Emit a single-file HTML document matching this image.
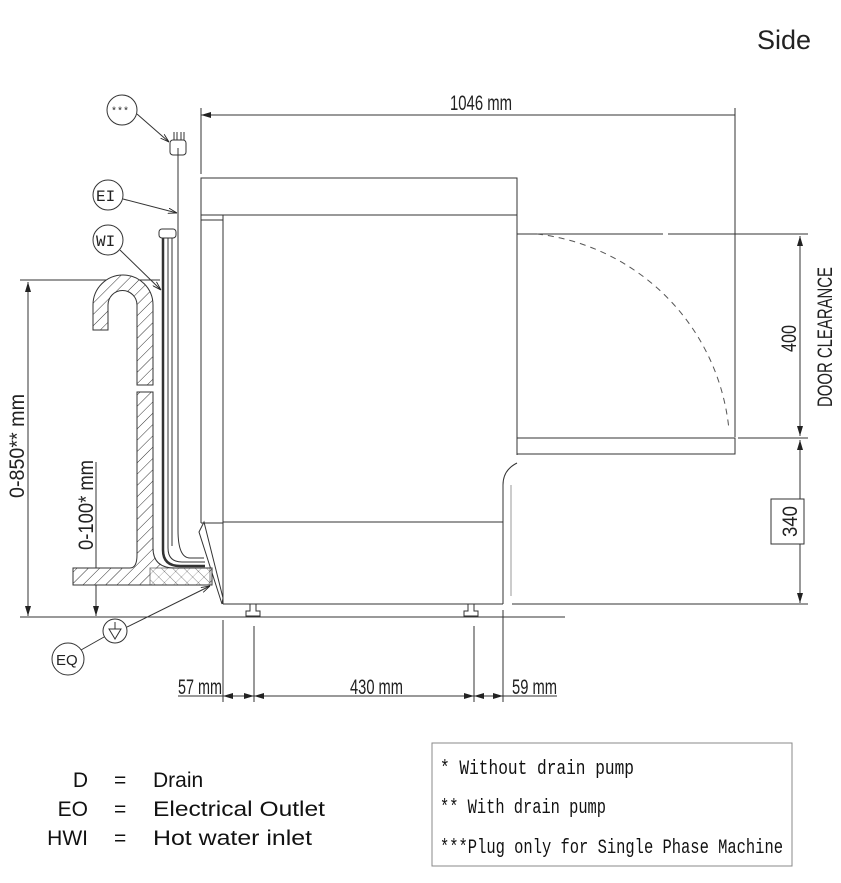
<!DOCTYPE html>
<html><head><meta charset="utf-8"><style>
html,body{margin:0;padding:0;background:#fff;}
svg{display:block}
</style></head><body>
<svg width="841" height="883" viewBox="0 0 841 883" xmlns="http://www.w3.org/2000/svg" font-family="Liberation Sans, sans-serif">
<defs>
<pattern id="h" patternUnits="userSpaceOnUse" width="8" height="8" patternTransform="rotate(45)">
<rect width="8" height="8" fill="#fff"/><line x1="0" y1="0" x2="0" y2="8" stroke="#333" stroke-width="1"/>
</pattern>
<pattern id="h2" patternUnits="userSpaceOnUse" width="8" height="8" patternTransform="rotate(-45)">
<rect width="8" height="8" fill="#fff"/><line x1="0" y1="0" x2="0" y2="8" stroke="#333" stroke-width="1"/>
</pattern>
<marker id="a" viewBox="0 0 10 6" refX="10" refY="3" markerWidth="10" markerHeight="6" orient="auto-start-reverse" markerUnits="userSpaceOnUse"><path d="M0,0L10,3L0,6z" fill="#222"/></marker>
<marker id="o" viewBox="0 0 10 6" refX="10" refY="3" markerWidth="9" markerHeight="6" orient="auto" markerUnits="userSpaceOnUse"><path d="M0,0L10,3L0,6" fill="none" stroke="#222"/></marker>
</defs>
<text x="757" y="49" font-size="27" fill="#222">Side</text>

<g stroke="#333" fill="none" stroke-width="1">
<line x1="201" y1="108" x2="201" y2="174"/>
<line x1="735" y1="108" x2="735" y2="437"/>
<line x1="201" y1="115" x2="735" y2="115" marker-start="url(#a)"/>
<rect x="201" y="178" width="316" height="37"/>
<line x1="201" y1="215" x2="201" y2="523"/>
<line x1="223" y1="215" x2="223" y2="604"/>
<line x1="201" y1="220" x2="223" y2="220"/>
<line x1="517" y1="215" x2="517" y2="455"/>
<path d="M517,463 Q503,470 503,485 L503,604"/>
<line x1="511" y1="485" x2="511" y2="596" stroke="#999"/>
<line x1="223" y1="522" x2="503" y2="522"/>
<line x1="201" y1="523" x2="223" y2="523"/>
<path d="M199,532 L204,522 L223,598 L222,604 Z"/>
<line x1="223" y1="604" x2="503" y2="604"/>
<line x1="512" y1="604" x2="808" y2="604"/>
<path d="M250,604 v7 h-4 v5 h14 v-5 h-4 v-7"/>
<path d="M468,604 v7 h-4 v5 h14 v-5 h-4 v-7"/>
<rect x="517" y="438" width="218" height="16"/>
<line x1="517" y1="234" x2="663" y2="234"/>
<line x1="668" y1="234" x2="808" y2="234"/>
<line x1="738" y1="438" x2="808" y2="438"/>
<path d="M537,234 A218,218 0 0 1 729,430" stroke-dasharray="6,5" stroke="#555"/>
<line x1="800" y1="236" x2="800" y2="436" marker-start="url(#a)" marker-end="url(#a)"/>
<line x1="800" y1="440" x2="800" y2="603" marker-start="url(#a)" marker-end="url(#a)"/>
<rect x="771" y="499" width="33" height="45" fill="#fff"/>
<line x1="20" y1="617" x2="565" y2="617"/>
<line x1="20" y1="280" x2="160" y2="280"/>
<line x1="28" y1="282" x2="28" y2="616" marker-start="url(#a)" marker-end="url(#a)"/>
<line x1="96" y1="462" x2="96" y2="616" marker-end="url(#a)"/>
<line x1="96" y1="576" x2="96" y2="568" marker-end="url(#a)"/>
<line x1="178" y1="148" x2="178" y2="530"/>
<path d="M163,238 L163,550 Q163,566 180,566 L205,566" stroke-width="2.5"/>
<path d="M168,238 L168,548 Q168,562 182,562 L205,562"/>
<path d="M178,530 Q178,558 190,558 L204,558"/>
<path d="M172,238 L172,546"/>
<rect x="159" y="229" width="17" height="9" rx="3"/>
<rect x="170" y="140" width="16" height="15" rx="3"/>
<line x1="174" y1="132" x2="174" y2="140"/><line x1="177" y1="132" x2="177" y2="140"/>
<line x1="181" y1="132" x2="181" y2="140"/><line x1="184" y1="132" x2="184" y2="140"/>
</g>
<g stroke="#333" stroke-width="1">
<path d="M93,330 L93,305 A30,30 0 0 1 153,305 L153,385 L137,385 L137,305 A14,14 0 0 0 108,305 L108,330 Z" fill="url(#h)"/>
<path d="M137,392 L153,392 L153,548 Q153,568 175,568 L212,568 L212,585 L73,585 L73,568 L130,568 Q137,568 137,555 Z" fill="url(#h)"/>
<path d="M150,568 L210,568 L210,585 L150,585 Z" fill="url(#h2)" opacity="0.6"/>
</g>
<g stroke="#333" fill="#fff" stroke-width="1">
<circle cx="122" cy="110" r="15"/>
<circle cx="108" cy="195" r="15"/>
<circle cx="108" cy="240" r="15"/>
<circle cx="68" cy="659" r="16"/>
<circle cx="115" cy="631" r="12"/>
</g>
<g stroke="#333" fill="none" stroke-width="1">
<line x1="137" y1="114" x2="169" y2="142" marker-end="url(#o)"/>
<line x1="123" y1="199" x2="177" y2="213" marker-end="url(#o)"/>
<line x1="120" y1="250" x2="161" y2="290" marker-end="url(#o)"/>
<line x1="127" y1="627" x2="210" y2="586" marker-end="url(#o)"/>
<line x1="81" y1="650" x2="104" y2="637"/>
<path d="M109,629 h12 l-6,10 z M115,622 v7"/>
<line x1="223" y1="620" x2="223" y2="702"/>
<line x1="254" y1="626" x2="254" y2="702"/>
<line x1="474" y1="626" x2="474" y2="702"/>
<line x1="503" y1="610" x2="503" y2="702"/>
<line x1="178" y1="696" x2="223" y2="696"/>
<line x1="223" y1="696" x2="254" y2="696" marker-start="url(#a)" marker-end="url(#a)"/>
<line x1="254" y1="696" x2="474" y2="696" marker-start="url(#a)" marker-end="url(#a)"/>
<line x1="474" y1="696" x2="503" y2="696" marker-start="url(#a)" marker-end="url(#a)"/>
<line x1="503" y1="696" x2="557" y2="696"/>
</g>
<g font-family="Liberation Mono, monospace" fill="#222" font-size="12">
<text x="111" y="114" font-size="10">***</text>
<text x="96" y="201" font-size="16">EI</text>
<text x="96" y="246" font-size="16">WI</text>
<text x="56" y="665" font-size="15" font-family="Liberation Sans, sans-serif">EQ</text>
</g>
<g font-family="Liberation Sans, sans-serif" fill="#222" font-size="21">
<text x="450" y="110" textLength="62" lengthAdjust="spacingAndGlyphs">1046 mm</text>
<text x="178" y="694" textLength="44" lengthAdjust="spacingAndGlyphs">57 mm</text>
<text x="350" y="694" textLength="53" lengthAdjust="spacingAndGlyphs">430 mm</text>
<text x="512" y="694" textLength="45" lengthAdjust="spacingAndGlyphs">59 mm</text>
<text transform="translate(796,352) rotate(-90)" textLength="27" lengthAdjust="spacingAndGlyphs">400</text>
<text transform="translate(832,407) rotate(-90)" textLength="140" lengthAdjust="spacingAndGlyphs">DOOR CLEARANCE</text>
<text transform="translate(797,537) rotate(-90)" textLength="31" lengthAdjust="spacingAndGlyphs">340</text>
<text transform="translate(24,498) rotate(-90)" textLength="104" lengthAdjust="spacingAndGlyphs">0-850** mm</text>
<text transform="translate(93,550) rotate(-90)" textLength="90" lengthAdjust="spacingAndGlyphs">0-100* mm</text>
</g>
<g font-family="Liberation Sans, sans-serif" fill="#111" font-size="21">
<text x="88" y="787" text-anchor="end">D</text><text x="114" y="787">=</text><text x="153" y="787">Drain</text>
<text x="88" y="816" text-anchor="end">EO</text><text x="114" y="816">=</text><text x="153" y="816" textLength="172" lengthAdjust="spacingAndGlyphs">Electrical Outlet</text>
<text x="88" y="845" text-anchor="end">HWI</text><text x="114" y="845">=</text><text x="153" y="845" textLength="159" lengthAdjust="spacingAndGlyphs">Hot water inlet</text>
</g>
<rect x="432" y="743" width="360" height="123" fill="#fff" stroke="#888" stroke-width="1"/>
<g font-family="Liberation Mono, monospace" fill="#111" font-size="20" xml:space="preserve">
<text x="440" y="774" textLength="194" lengthAdjust="spacingAndGlyphs">*  Without drain pump</text>
<text x="440" y="813" textLength="166" lengthAdjust="spacingAndGlyphs">** With drain pump</text>
<text x="440" y="853" textLength="343" lengthAdjust="spacingAndGlyphs">***Plug only for Single Phase Machine</text>
</g>
</svg>
</body></html>
